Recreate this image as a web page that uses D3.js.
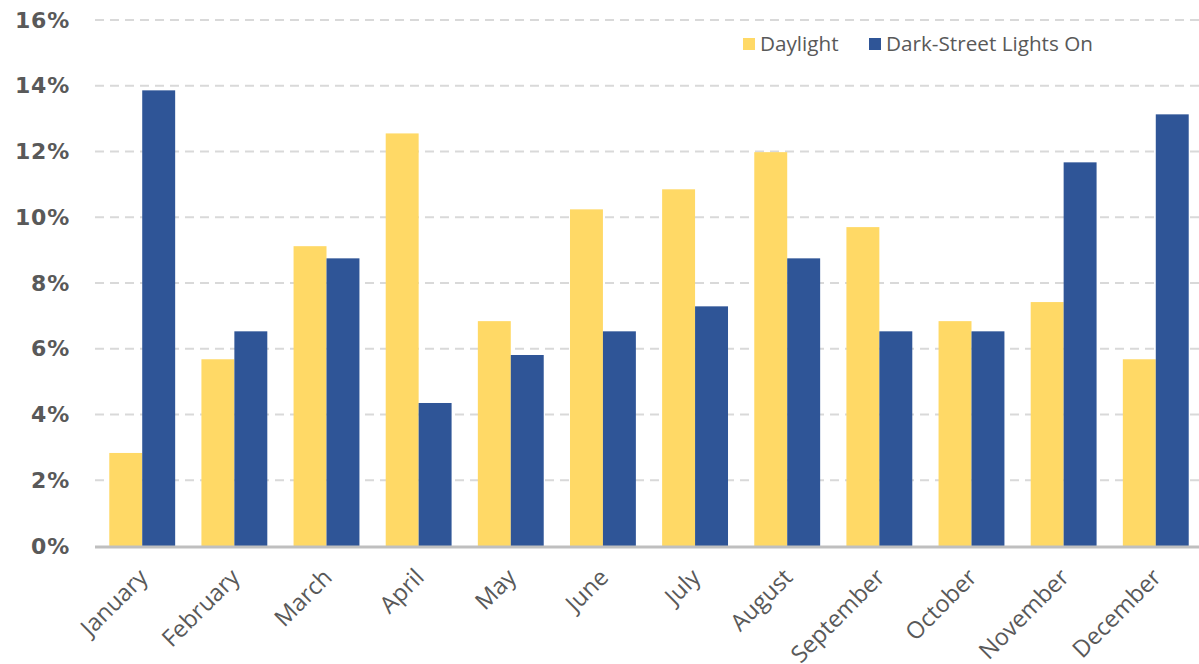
<!DOCTYPE html>
<html>
<head>
<meta charset="utf-8">
<script src="https://cdn.jsdelivr.net/npm/d3@7"></script>
<style>
  body { margin: 0; background: #fff; }
  svg { display: block; }
  svg text { font-family: "Open Sans", "DejaVu Sans", sans-serif; }
</style>
</head>
<body>
<svg id="chart" width="1199" height="664"></svg>
<script>
// values (percent)
const months = ["January", "February", "March", "April", "May", "June",
	"July", "August", "September", "October", "November", "December"];
const daylight = [2.83, 5.68, 9.12, 12.55, 6.84, 10.24, 10.85, 11.98, 9.70, 6.84, 7.42, 5.68];
const darkLights = [13.86, 6.53, 8.75, 4.35, 5.81, 6.53, 7.29, 8.75, 6.53, 6.53, 11.67, 13.13];
const seriesNames = ["Daylight", "Dark-Street Lights On"];
const seriesColors = ["#FFD966", "#2F5597"];
const yTicks = [0, 2, 4, 6, 8, 10, 12, 14, 16];

const svg = d3.select("#chart");
const margin = {top: 20, right: 0, bottom: 118, left: 95};
const width = 1199 - margin.left - margin.right,
	height = 664 - margin.top - margin.bottom;

const g = svg.append("g")
	.attr("transform", "translate(" + margin.left + "," + margin.top + ")");

const x = d3.scaleBand()
	.domain(months)
	.range([0, width + 4])
	.paddingInner(0.285)
	.paddingOuter(0.155);

const x1 = d3.scaleBand()
	.domain(seriesNames)
	.range([0, x.bandwidth()]);

const y = d3.scaleLinear()
	.domain([0, 16])
	.range([height, 0]);

// gridlines
g.append("g")
	.selectAll("line")
	.data(yTicks.filter(d => d > 0))
	.enter().append("line")
	.attr("x1", 0)
	.attr("x2", width)
	.attr("y1", d => y(d))
	.attr("y2", d => y(d))
	.style("stroke", "#d9d9d9")
	.style("stroke-width", 2)
	.style("stroke-dasharray", "9,6");

// y axis labels
const yAxis = d3.axisLeft(y)
	.tickValues(yTicks)
	.tickFormat(d => d + "%")
	.tickSize(0)
	.tickPadding(25);

g.append("g")
	.call(yAxis)
	.call(s => s.select(".domain").remove())
	.selectAll("text")
	.style("font-family", "'DejaVu Sans', sans-serif")
	.style("font-size", "22px")
	.style("font-weight", "bold")
	.style("letter-spacing", "0.8px")
	.style("fill", "#595959");

const data = months.map((m, i) => ({month: m, values: [daylight[i], darkLights[i]]}));

const groups = g.append("g")
	.selectAll("g")
	.data(data)
	.enter().append("g")
	.attr("transform", d => "translate(" + x(d.month) + ",0)");

groups.selectAll("rect")
	.data(d => d.values.map((v, k) => ({name: seriesNames[k], value: v, color: seriesColors[k]})))
	.enter().append("rect")
	.attr("x", d => x1(d.name))
	.attr("width", x1.bandwidth())
	.attr("y", d => y(d.value))
	.attr("height", d => height - y(d.value))
	.style("fill", d => d.color);

// baseline
g.append("line")
	.attr("x1", 0)
	.attr("x2", width)
	.attr("y1", height + 1)
	.attr("y2", height + 1)
	.style("stroke", "#bfbfbf")
	.style("stroke-width", 3);

// x axis labels
const xAxis = d3.axisBottom(x).tickSize(0).tickPadding(0);
g.append("g")
	.attr("transform", "translate(0," + (height + 27) + ")")
	.call(xAxis)
	.call(s => s.select(".domain").remove())
	.selectAll("text")
	.attr("dy", "0.35em")
	.attr("transform", "translate(1,0) rotate(-45)")
	.style("text-anchor", "end")
	.style("font-family", "'Open Sans', sans-serif")
	.style("font-size", "23.5px")
	.style("fill", "#595959");

// legend
const legend = svg.append("g").attr("transform", "translate(743,44)");
const legendX = [0, 126];
seriesNames.forEach((name, i) => {
	const item = legend.append("g").attr("transform", "translate(" + legendX[i] + ",0)");
	item.append("rect")
		.attr("x", 0)
		.attr("y", -6)
		.attr("width", 12)
		.attr("height", 12)
		.style("fill", seriesColors[i]);
	item.append("text")
		.attr("x", 17)
		.attr("dy", "0.35em")
		.style("font-size", "20.7px")
		.style("fill", "#595959")
		.text(name);
});
</script>
</body>
</html>
